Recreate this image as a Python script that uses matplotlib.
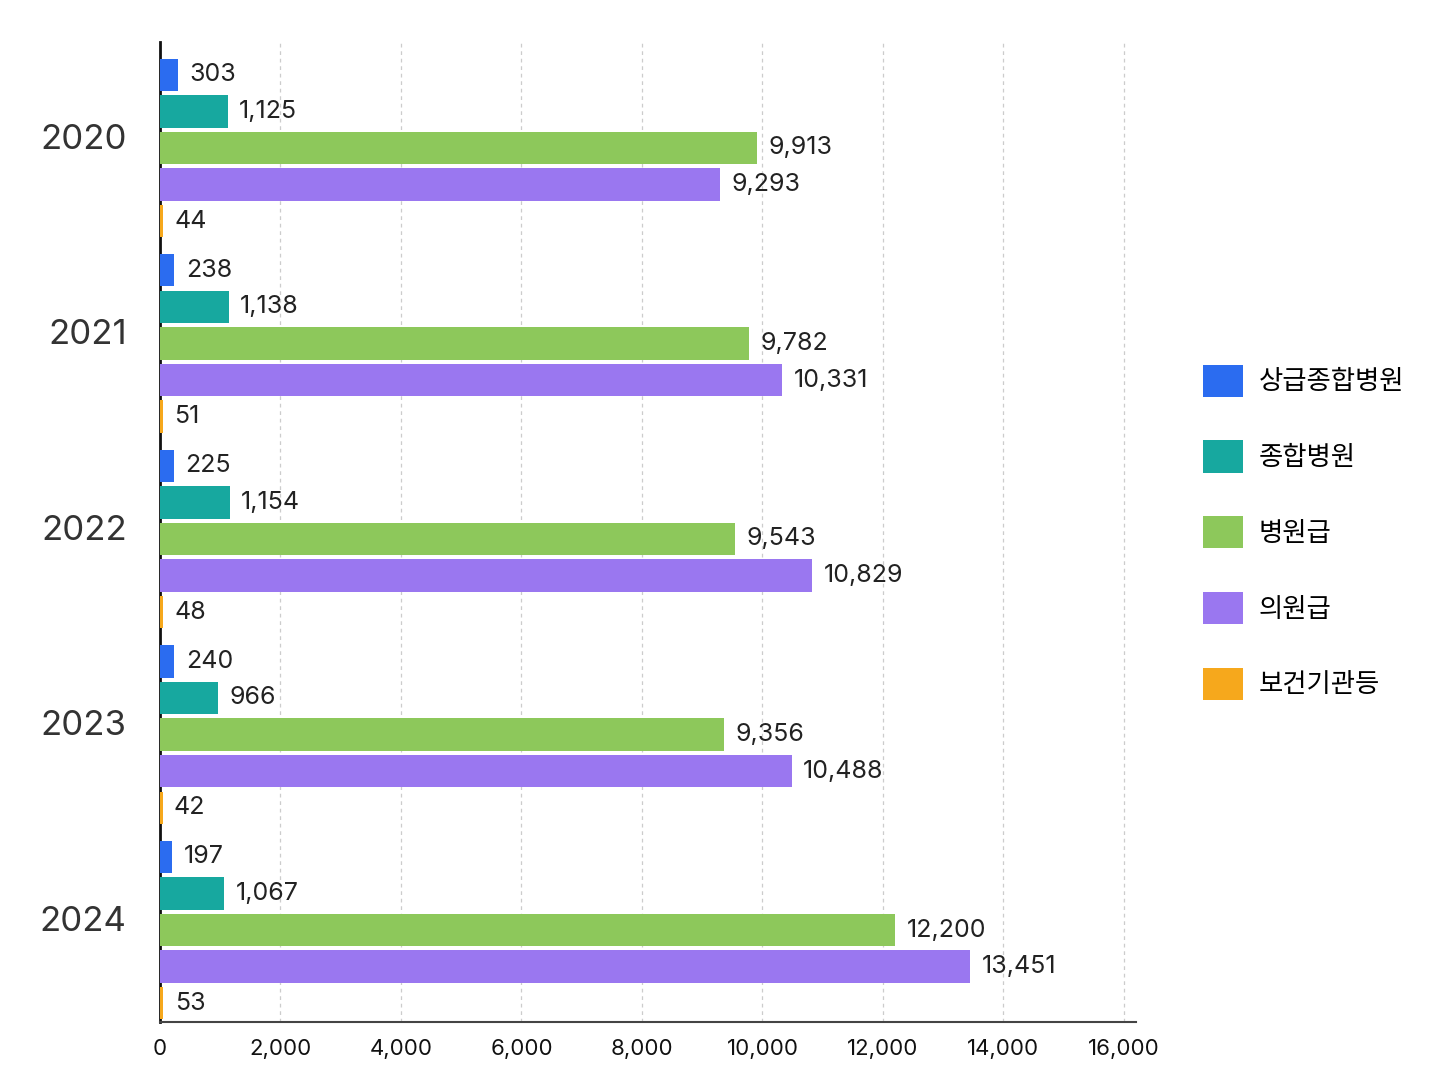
import numpy as np
import matplotlib.pyplot as plt
from matplotlib.patches import Patch

plt.rcParams['font.family'] = ['Inter', 'Noto Sans CJK KR', 'DejaVu Sans']

years = ['2020', '2021', '2022', '2023', '2024']
series = ['상급종합병원', '종합병원', '병원급', '의원급', '보건기관등']
colors = ['#2B6CF0', '#17A89F', '#8DC85B', '#9A77F0', '#F6A81C']

tertiary = [303, 238, 225, 240, 197]
general = [1125, 1138, 1154, 966, 1067]
hospital = [9913, 9782, 9543, 9356, 12200]
clinic = [9293, 10331, 10829, 10488, 13451]
public = [44, 51, 48, 42, 53]
values = [tertiary, general, hospital, clinic, public]

fig = plt.figure(figsize=(14.48, 10.86), dpi=100)
ax = fig.add_axes([0.1105, 0.059, 0.674, 0.902])

pitch = 0.187
height = 0.165
y = np.arange(len(years))
for j, (vals, c) in enumerate(zip(values, colors)):
    pos = y + (j - 2) * pitch
    ax.barh(pos, vals, height=height, color=c, zorder=3)
    for p, v in zip(pos, vals):
        ax.text(v + 190, p, f'{v:,}', va='center', ha='left', fontsize=18, color='#222222', zorder=4)

ax.set_xlim(0, 16200)
ax.set_ylim(4.47, -0.54)
ax.set_xticks(np.arange(0, 16001, 2000))
ax.set_xticklabels([f'{t:,}' for t in range(0, 16001, 2000)], fontsize=16, color='#111111')
ax.set_yticks(y - 0.06)
ax.set_yticklabels(years, fontsize=25, color='#333333')
ax.tick_params(axis='y', length=0, pad=24)
ax.tick_params(axis='x', length=0, pad=12)

ax.grid(axis='x', linestyle=(0, (3, 3)), color='#cccccc', linewidth=0.9, zorder=0)
for s in ['top', 'right']:
    ax.spines[s].set_visible(False)
ax.spines['left'].set_color('#111111')
ax.spines['left'].set_linewidth(2)
ax.spines['bottom'].set_color('#444444')
ax.spines['bottom'].set_linewidth(1.5)

handles = [Patch(facecolor=c, label=s) for c, s in zip(colors, series)]
fig.legend(handles=handles, loc='center left', bbox_to_anchor=(0.8146, 0.51), frameon=False,
           fontsize=19, handlelength=1.5, handleheight=1.5, labelspacing=1.65, handletextpad=0.6)

plt.savefig('out.png', dpi=100)
